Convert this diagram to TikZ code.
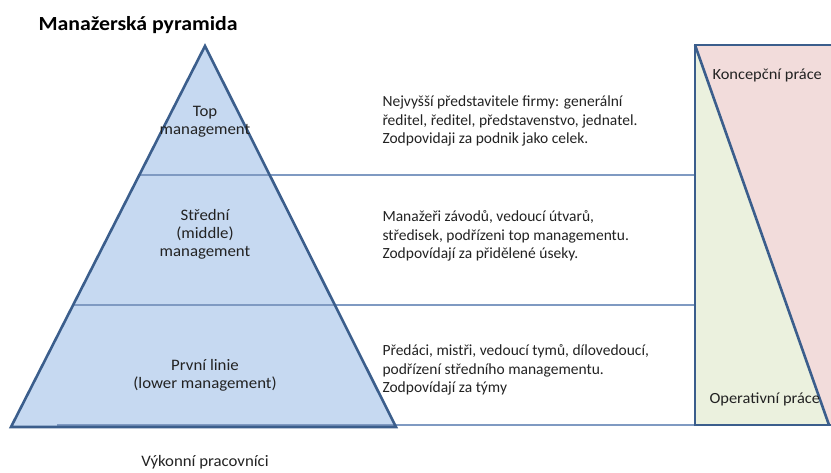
\documentclass[tikz,border=0pt]{standalone}
\usepackage{fontspec}
\setmainfont{Carlito}
\newfontfamily\titlefont[FakeStretch=1.09]{Carlito}
\newfontfamily\lvlfont[FakeStretch=1.05]{Carlito}
\newfontfamily\workfont[FakeStretch=1.06]{Carlito}
\definecolor{pyrfill}{HTML}{C6D9F1}
\definecolor{pyrline}{HTML}{3B5E8C}
\definecolor{sepline}{HTML}{7F9AC2}
\definecolor{konfill}{HTML}{F2DCDB}
\definecolor{opfill}{HTML}{EBF1DE}
\definecolor{txt}{HTML}{222222}
\tikzset{
  lvl/.style={align=center, text=txt, font=\lvlfont\fontsize{16}{18}\selectfont},
  desc/.style={align=left, anchor=west, text=txt, font=\fontsize{15.5}{18.6}\selectfont},
  work/.style={text=txt, font=\workfont\fontsize{15.5}{17}\selectfont},
  sep/.style={sepline, line width=1.1pt},
  edge/.style={pyrline, line width=2.6pt, line join=miter}
}
\begin{document}
\begin{tikzpicture}[x=1pt, y=-1pt]
\useasboundingbox (0,0) rectangle (831,472);

\node[anchor=west, text=black, font=\titlefont\fontsize{20}{22}\bfseries] (title) at (35,25) {Manažerská pyramida};

% pyramida
\coordinate (apex) at (205,46);
\coordinate (bl) at (11,427);
\coordinate (br) at (396,427);
\fill[pyrfill] (apex) -- (bl) -- (br) -- cycle;

% prace vpravo
\coordinate (rtl) at (695,45);
\coordinate (rbl) at (695,425);
\coordinate (rtr) at (836,45);
\coordinate (rbr) at (836,425);
\coordinate (diag) at (829,425);
\fill[konfill] (rtl) -- (rtr) -- (rbr) -- (diag) -- cycle;
\fill[opfill] (rtl) -- (diag) -- (rbl) -- cycle;

% deleni urovni
\coordinate (a1) at (140,175);
\coordinate (b1) at (695,175);
\coordinate (a2) at (74,305);
\coordinate (b2) at (695,305);
\coordinate (a3) at (57,425);
\coordinate (b3) at (695,425);
\draw[sep] (a1) -- (b1);
\draw[sep] (a2) -- (b2);
\draw[sep] (a3) -- (b3);

\draw[edge] (apex) -- (bl) -- (br) -- cycle;
\draw[edge] (rtl) rectangle (rbr);
\draw[edge] (rtl) -- (diag);

\node[lvl] (top) at (205,122) {Top\\management};
\node[lvl] (mid) at (205,234) {Střední\\(middle)\\management};
\node[lvl] (low) at (205,375) {První linie\\(lower management)};
\node[lvl] (vyk) at (205,462) {Výkonní pracovníci};

\node[desc] (dtop) at (379,121) {Nejvyšší představitele firmy: generální\\ředitel, ředitel, představenstvo, jednatel.\\Zodpovidaji za podnik jako celek.};
\node[desc] (dmid) at (379,236) {Manažeři závodů, vedoucí útvarů,\\středisek, podřízeni top managementu.\\Zodpovídají za přidělené úseky.};
\node[desc] (dlow) at (379,370) {Předáci, mistři, vedoucí tymů, dílovedoucí,\\podřízení středního managementu.\\Zodpovídají za týmy};

\node[work, anchor=west] (konc) at (709,75) {Koncepční práce};
\node[work, anchor=west] (oper) at (706,399) {Operativní práce};
\end{tikzpicture}
\end{document}
